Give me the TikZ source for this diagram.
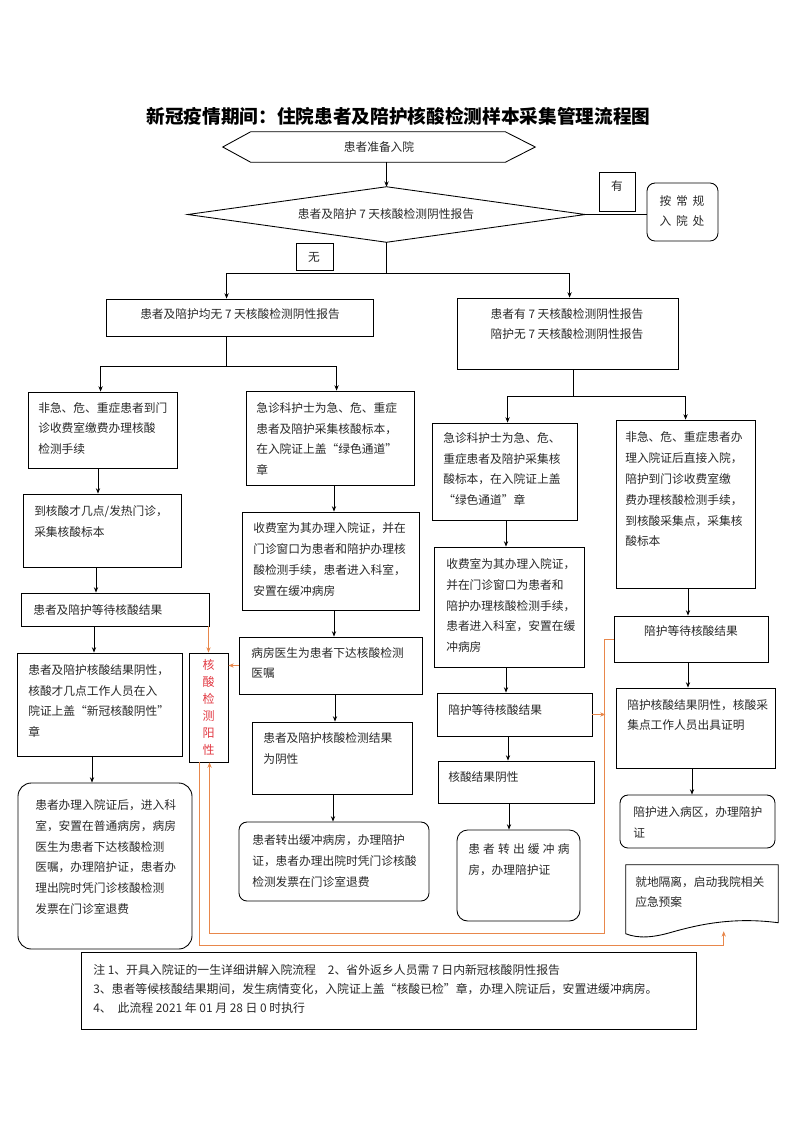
\documentclass[tikz,border=0pt]{standalone}
\usepackage{fontspec}
\newfontfamily\cjk{Noto Sans CJK SC}
\usetikzlibrary{calc,arrows.meta,fit}
\definecolor{org}{RGB}{232,135,75}
\definecolor{posred}{RGB}{225,55,65}
\definecolor{ink}{RGB}{40,40,40}
\newcommand{\gapch}{\hspace{3.6pt}}
\newcommand{\gapsm}{\hspace{2.4pt}}
\begin{document}
\begin{tikzpicture}[x=0.75pt,y=-0.75pt,
  box/.style={draw,line width=0.65pt,inner sep=0pt},
  shp/.style={inner sep=0pt},
  rbox/.style={box,rounded corners=6pt},
  txt/.style={font=\cjk\fontsize{8.8pt}{15.6pt}\selectfont,text=ink,align=left,inner sep=0pt,anchor=west},
  ctxt/.style={txt,align=center,anchor=center},
  ln/.style={line width=0.6pt},
  arr/.style={line width=0.6pt,-{Stealth[length=4pt,width=3.2pt]}},
  oarr/.style={draw=org,line width=0.6pt,-{Stealth[length=4pt,width=3.2pt]}}]
\useasboundingbox (0,0) rectangle (793,1122);

% title
\node[font=\cjk\bfseries\fontsize{14pt}{17pt}\selectfont] (title) at (398.5,116) {新冠疫情期间：住院患者及陪护核酸检测样本采集管理流程图};

% hexagon
\node[shp,fit={(223,132)(535,162)}] (hex) {};
\draw[line width=0.65pt] (hex.west) -- ($(hex.north west)+(28,0)$) -- ($(hex.north east)+(-30,0)$) -- (hex.east) -- ($(hex.south east)+(-30,0)$) -- ($(hex.south west)+(28,0)$) -- cycle;
\node[ctxt] (hext) at (379,147) {患者准备入院};

% decision
\node[shp,fit={(188,187)(585,242)}] (dia) {};
\draw[line width=0.65pt] (dia.west) -- (dia.north) -- (dia.east) -- (dia.south) -- cycle;
\node[ctxt] (diat) at (386,214) {患者及陪护 7 天核酸检测阴性报告};

% labels
\node[box,fit={(599,172)(635,211)}] (you) {};
\node[ctxt] (yout) at (617,186) {有};
\node[box,fit={(296,243)(333,270)}] (wu) {};
\node[ctxt] (wut) at (314,257) {无};
\node[rbox,fit={(647,183)(718,241)}] (reg) {};
\node[ctxt] (regt) at (682,211) {按\gapch 常\gapch 规\\入\gapch 院\gapch 处};

% main boxes
\node[box,fit={(106,299)(373,336)}] (A) {};
\node[ctxt] (At) at (240,314) {患者及陪护均无 7 天核酸检测阴性报告};
\node[box,fit={(457,298)(678,369)}] (C) {};
\node[ctxt] (Ct) at (567,324) {患者有 7 天核酸检测阴性报告\\陪护无 7 天核酸检测阴性报告};

% left column
\node[box,fit={(28,392)(177,468)}] (B1) {};
\node[txt] (B1t) at (38,428.5) {非急、危、重症患者到门\\诊收费室缴费办理核酸\\检测手续};
\node[box,fit={(23,494)(181,567)}] (L2) {};
\node[txt] (L2t) at (34,521.5) {到核酸才几点/发热门诊，\\采集核酸标本};
\node[box,fit={(21,593)(209,626)}] (L3) {};
\node[txt] (L3t) at (33,610) {患者及陪护等待核酸结果};
\node[box,fit={(17,653)(182,756)}] (L4) {};
\node[txt] (L4t) at (28,701) {患者及陪护核酸结果阴性，\\核酸才几点工作人员在入\\院证上盖“新冠核酸阴性”\\章};
\node[box,rounded corners=10pt,fit={(18,783)(192,949)}] (L5) {};
\node[txt] (L5t) at (35,857) {患者办理入院证后，进入科\\室，安置在普通病房，病房\\医生为患者下达核酸检测\\医嘱，办理陪护证，患者办\\理出院时凭门诊核酸检测\\发票在门诊室退费};

% positive box
\node[box,fit={(189,653)(228,762)}] (P) {};
\node[font=\cjk\fontsize{9pt}{12.75pt}\selectfont,text=posred,align=center,inner sep=0pt] (Pt) at (208.5,707.5) {核\\酸\\检\\测\\阳\\性};

% second column
\node[box,fit={(246,391)(414,485)}] (B2) {};
\node[txt] (B2t) at (256,439) {急诊科护士为急、危、重症\\患者及陪护采集核酸标本，\\在入院证上盖“绿色通道”\\章};
\node[box,fit={(242,512)(419,610)}] (B3) {};
\node[txt] (B3t) at (253,559.5) {收费室为其办理入院证，并在\\门诊窗口为患者和陪护办理核\\酸检测手续，患者进入科室，\\安置在缓冲病房};
\node[box,fit={(239,637)(422,694)}] (B4) {};
\node[txt] (B4t) at (251,663) {病房医生为患者下达核酸检测\\医嘱};
\node[box,fit={(252,722)(412,794)}] (B5) {};
\node[txt] (B5t) at (263,748.5) {患者及陪护核酸检测结果\\为阴性};
\node[rbox,fit={(239,822)(429,901)}] (B6) {};
\node[txt] (B6t) at (252,861) {患者转出缓冲病房，办理陪护\\证，患者办理出院时凭门诊核酸\\检测发票在门诊室退费};

% third column
\node[box,fit={(432,423)(577,520)}] (D1) {};
\node[txt] (D1t) at (443,469) {急诊科护士为急、危、\\重症患者及陪护采集核\\酸标本，在入院证上盖\\“绿色通道”章};
\node[box,fit={(434,547)(584,667)}] (D2) {};
\node[txt] (D2t) at (446,605.5) {收费室为其办理入院证，\\并在门诊窗口为患者和\\陪护办理核酸检测手续，\\患者进入科室，安置在缓\\冲病房};
\node[box,fit={(437,693)(592,736)}] (D3) {};
\node[txt] (D3t) at (448,710) {陪护等待核酸结果};
\node[box,fit={(438,761)(594,803)}] (D4) {};
\node[txt] (D4t) at (448,777) {核酸结果阴性};
\node[box,rounded corners=8pt,fit={(457,830)(580,921)}] (D5) {};
\node[txt] (D5t) at (468,860) {患\gapsm 者\gapsm 转\gapsm 出\gapsm 缓\gapsm 冲\gapsm 病\\房，办理陪护证};

% fourth column
\node[box,fit={(616,420)(755,588)}] (E1) {};
\node[txt] (E1t) at (625,489.5) {非急、危、重症患者办\\理入院证后直接入院，\\陪护到门诊收费室缴\\费办理核酸检测手续，\\到核酸采集点，采集核\\酸标本};
\node[box,fit={(614,616)(768,662)}] (E2) {};
\node[ctxt] (E2t) at (691,631) {陪护等待核酸结果};
\node[box,fit={(616,688)(775,768)}] (E3) {};
\node[txt] (E3t) at (627,715) {陪护核酸结果阴性，核酸采\\集点工作人员出具证明};
\node[rbox,fit={(620,795)(775,848)}] (E4) {};
\node[txt] (E4t) at (633,822.5) {陪护进入病区，办理陪护\\证};
\node[shp,fit={(626,865)(778,931)}] (F) {};
\draw[line width=0.65pt] (F.north west) -- (F.north east) -- ($(F.north east)+(0,58)$) .. controls ($(F.north east)+(-45,52)$) and ($(F.north east)+(-80,60)$) .. ($(F.north east)+(-105,67)$) .. controls ($(F.north east)+(-125,73)$) and ($(F.north east)+(-140,74)$) .. ($(F.north west)+(0,69)$) -- cycle;
\node[txt] (Ft) at (635,892) {就地隔离，启动我院相关\\应急预案};

% notes
\node[box,fit={(81,952)(696,1029)}] (note) {};
\node[txt,font=\cjk\fontsize{8.9pt}{14.25pt}\selectfont] (notet) at (93,989) {注 1、开具入院证的一生详细讲解入院流程\quad 2、省外返乡人员需 7 日内新冠核酸阴性报告\\3、患者等候核酸结果期间，发生病情变化，入院证上盖“核酸已检”章，办理入院证后，安置进缓冲病房。\\4、\enspace 此流程 2021 年 01 月 28 日 0 时执行};

% black connectors
\draw[arr] (hex.south -| dia.north) -- (dia.north);
\draw[ln] (dia.east) -- (dia.east -| reg.west);
\draw[ln] (dia.south) -- ++(0,31) coordinate (jd);
\draw[arr] (jd) -| ($(A.north west)+(121,0)$);
\draw[arr] (jd) -| ($(C.north west)+(113,0)$);
\draw[ln] ($(A.south west)+(121,0)$) -- ++(0,30) coordinate (ja);
\draw[arr] (ja) -| ($(B1.north west)+(73,0)$);
\draw[arr] (ja) -| ($(B2.north west)+(91,0)$);
\draw[ln] ($(C.south west)+(117,0)$) -- ++(0,27) coordinate (jc);
\draw[arr] (jc) -| ($(D1.north west)+(76,0)$);
\draw[arr] (jc) -| ($(E1.north west)+(70,0)$);

\draw[arr] (B1.south -| 98,0) -- (L2.north -| 98,0);
\draw[arr] (L2.south -| 96,0) -- (L3.north -| 96,0);
\draw[arr] (L3.south -| 94,0) -- (L4.north -| 94,0);
\draw[arr] (L4.south -| 92,0) -- (L5.north -| 92,0);
\draw[arr] (B2.south -| 334,0) -- (B3.north -| 334,0);
\draw[arr] (B3.south -| 334,0) -- (B4.north -| 334,0);
\draw[arr] (B4.south -| 335,0) -- (B5.north -| 335,0);
\draw[arr] (B5.south -| 333,0) -- (B6.north -| 333,0);
\draw[arr] (D1.south -| 506,0) -- (D2.north -| 506,0);
\draw[arr] (D2.south -| 506,0) -- (D3.north -| 506,0);
\draw[arr] (D3.south -| 508,0) -- (D4.north -| 508,0);
\draw[arr] (D4.south -| 509,0) -- (D5.north -| 509,0);
\draw[arr] (E1.south -| 688,0) -- (E2.north -| 688,0);
\draw[arr] (E2.south -| 688,0) -- (E3.north -| 688,0);
\draw[arr] (E3.south -| 692,0) -- (E4.north -| 692,0);

% orange connectors
\draw[oarr] (L3.south -| P.north) -- (P.north);
\draw[oarr] (B4.west) -- (B4.west -| P.east);
\draw[oarr] ($(P.south west)+(11,0)$) -- ++(0,183) -| ($(F.south west)+(98,0)$);
\draw[oarr] (E2.west) -- ++(-9,0) -- ++(0,294) -| ($(P.south west)+(21,0)$);
\draw[oarr] (D3.east) -- ++(13,0);
\end{tikzpicture}
\end{document}
